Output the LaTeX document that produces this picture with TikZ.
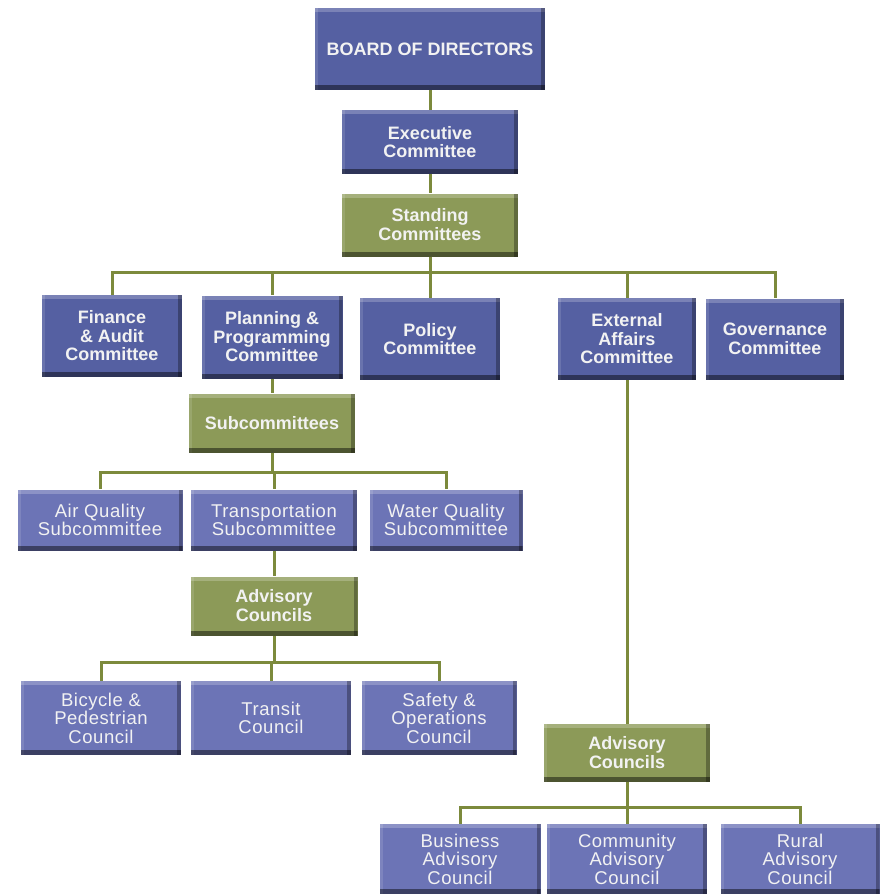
\documentclass[tikz,border=0pt]{standalone}
\usepackage{fontspec}
\setmainfont{Liberation Sans}
\definecolor{dblue}{HTML}{5560A2}
\definecolor{lblue}{HTML}{6C74B6}
\definecolor{gbox}{HTML}{8C9A58}
\definecolor{lnk}{HTML}{7C8A3C}
\definecolor{txt}{HTML}{F2F2F2}
\tikzset{
  bevel/.style={path picture={
    \fill[white,opacity=0.22] (path picture bounding box.north west) rectangle ([yshift=-4pt]path picture bounding box.north east);
    \fill[white,opacity=0.12] (path picture bounding box.north west) rectangle ([xshift=3pt]path picture bounding box.south west);
    \fill[black,opacity=0.45] (path picture bounding box.south west) rectangle ([yshift=5pt]path picture bounding box.south east);
    \fill[black,opacity=0.30] ([xshift=-4pt]path picture bounding box.north east) rectangle (path picture bounding box.south east);
  }},
  boxbase/.style={rectangle, bevel, text=txt, align=center, inner sep=2pt},
  bbox/.style={boxbase, fill=dblue, font=\fontsize{18}{18.5}\selectfont\bfseries},
  rbox/.style={boxbase, fill=lblue, font=\fontsize{18.5}{18.5}\selectfont\addfontfeatures{LetterSpace=3}},
  gnode/.style={boxbase, fill=gbox, font=\fontsize{18}{19}\selectfont\bfseries},
  conn/.style={draw=lnk, line width=3pt},
}
\begin{document}
\begin{tikzpicture}[x=1pt,y=1pt]
\fill[white] (0,0) rectangle (889,-895);
\useasboundingbox (0,0) rectangle (889,-895);

\coordinate (j1) at (430,-272);
\coordinate (j2) at (272,-472);
\coordinate (j3) at (274,-662);
\coordinate (j4) at (627,-807);

\node[bbox, minimum width=230, minimum height=82] (board) at (430,-49) {BOARD OF DIRECTORS};
\node[bbox, minimum width=176, minimum height=64] (exec) at (430,-142) {Executive\\Committee};
\node[gnode, minimum width=176, minimum height=63] (stand) at (430,-225) {Standing\\Committees};

\node[bbox, minimum width=140, minimum height=82] (fin) at (112,-336) {Finance\\\& Audit\\Committee};
\node[bbox, minimum width=141, minimum height=83] (plan) at (272,-337) {Planning \&\\Programming\\Committee};
\node[bbox, minimum width=140, minimum height=82] (pol) at (430,-339) {Policy\\Committee};
\node[bbox, minimum width=138, minimum height=82] (ext) at (627,-339) {External\\Affairs\\Committee};
\node[bbox, minimum width=138, minimum height=81] (gov) at (775,-339) {Governance\\Committee};

\node[gnode, minimum width=166, minimum height=59] (sub) at (272,-423) {Subcommittees};

\node[rbox, minimum width=165, minimum height=61] (air) at (100,-520) {Air Quality\\Subcommittee};
\node[rbox, minimum width=166, minimum height=61] (trans) at (274,-520) {Transportation\\Subcommittee};
\node[rbox, minimum width=153, minimum height=61] (water) at (446,-520) {Water Quality\\Subcommittee};

\node[gnode, minimum width=167, minimum height=59] (adv1) at (274,-606) {Advisory\\Councils};

\node[rbox, minimum width=160, minimum height=74] (bike) at (101,-718) {Bicycle \&\\Pedestrian\\Council};
\node[rbox, minimum width=160, minimum height=74] (transit) at (271,-718) {Transit\\Council};
\node[rbox, minimum width=155, minimum height=74] (safe) at (439,-718) {Safety \&\\Operations\\Council};

\node[gnode, minimum width=166, minimum height=58] (adv2) at (627,-753) {Advisory\\Councils};

\node[rbox, minimum width=161, minimum height=70] (bus) at (460,-859) {Business\\Advisory\\Council};
\node[rbox, minimum width=160, minimum height=70] (com) at (627,-859) {Community\\Advisory\\Council};
\node[rbox, minimum width=159, minimum height=70] (rur) at (800,-859) {Rural\\Advisory\\Council};

\draw[conn] (board.south) -- (exec.north);
\draw[conn] (exec.south) -- (stand.north);
\draw[conn] (stand.south) -- (j1);
\draw[conn] (j1) -| (fin.north);
\draw[conn] (j1) -| (plan.north);
\draw[conn] (j1) -- (pol.north);
\draw[conn] (j1) -| (ext.north);
\draw[conn] (j1) -| (gov.north);
\draw[conn] (plan.south) -- (sub.north);
\draw[conn] (sub.south) -- (j2);
\draw[conn] (j2) -| (air.north);
\draw[conn] (j2) -| (trans.north);
\draw[conn] (j2) -| (water.north);
\draw[conn] (trans.south) -- (adv1.north);
\draw[conn] (adv1.south) -- (j3);
\draw[conn] (j3) -| (bike.north);
\draw[conn] (j3) -| (transit.north);
\draw[conn] (j3) -| (safe.north);
\draw[conn] (ext.south) -- (adv2.north);
\draw[conn] (adv2.south) -- (j4);
\draw[conn] (j4) -| (bus.north);
\draw[conn] (j4) -- (com.north);
\draw[conn] (j4) -| (rur.north);
\end{tikzpicture}
\end{document}
